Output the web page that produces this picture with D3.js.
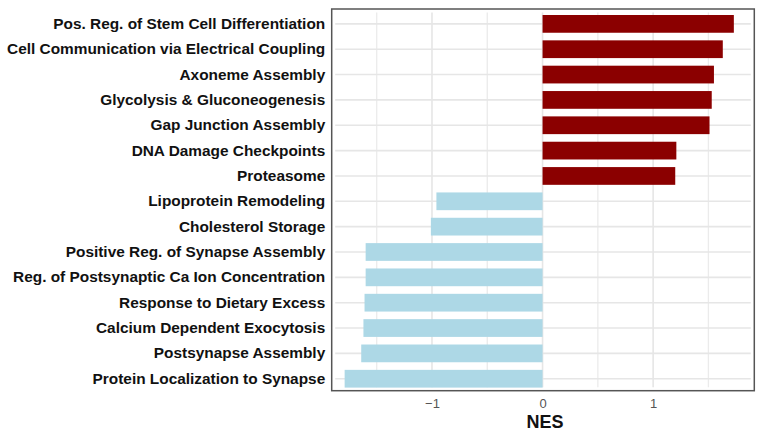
<!DOCTYPE html>
<html>
<head>
<meta charset="utf-8">
<script src="https://cdn.jsdelivr.net/npm/d3@7"></script>
<style>
body { margin: 0; background: #fff; }
svg { display: block; }
</style>
</head>
<body>
<script>
// pathways, top to bottom
var pathways = [
	"Pos. Reg. of Stem Cell Differentiation",
	"Cell Communication via Electrical Coupling",
	"Axoneme Assembly",
	"Glycolysis & Gluconeogenesis",
	"Gap Junction Assembly",
	"DNA Damage Checkpoints",
	"Proteasome",
	"Lipoprotein Remodeling",
	"Cholesterol Storage",
	"Positive Reg. of Synapse Assembly",
	"Reg. of Postsynaptic Ca Ion Concentration",
	"Response to Dietary Excess",
	"Calcium Dependent Exocytosis",
	"Postsynapse Assembly",
	"Protein Localization to Synapse"
];
// normalized enrichment scores
var nes = [1.73, 1.63, 1.55, 1.53, 1.51, 1.21, 1.20, -0.96, -1.01, -1.60, -1.60, -1.61, -1.62, -1.64, -1.79];
var xTicks = [-1, 0, 1];
var xMinor = [-1.5, -0.5, 0.5, 1.5];

var width = 775, height = 435;
var panel = {left: 331.7, right: 754.3, top: 9, bottom: 390.7};
var font = "'Liberation Sans', Arial, sans-serif";

var svg = d3.select("body").append("svg")
	.attr("width", width)
	.attr("height", height);

var x = d3.scaleLinear()
	.domain([-1.907, 1.915])
	.range([panel.left, panel.right]);

var y = d3.scaleBand()
	.domain(pathways)
	.range([11.2, 391.4])
	.paddingInner(0.3)
	.paddingOuter(0.15);

// grid, slightly inset from the border
var inset = 3.5;
var grid = svg.append("g");
grid.selectAll("line.minor").data(xMinor).enter().append("line")
	.attr("class", "minor")
	.attr("x1", function(d){ return x(d); })
	.attr("x2", function(d){ return x(d); })
	.attr("y1", panel.top + inset)
	.attr("y2", panel.bottom - inset)
	.style("stroke", "#ebebeb").style("stroke-width", 1.3);
grid.selectAll("line.vmajor").data(xTicks).enter().append("line")
	.attr("class", "vmajor")
	.attr("x1", function(d){ return x(d); })
	.attr("x2", function(d){ return x(d); })
	.attr("y1", panel.top + inset)
	.attr("y2", panel.bottom - inset)
	.style("stroke", "#e6e6e6").style("stroke-width", 1.6);
grid.selectAll("line.hmajor").data(pathways).enter().append("line")
	.attr("class", "hmajor")
	.attr("x1", panel.left + inset)
	.attr("x2", panel.right - inset)
	.attr("y1", function(d){ return y(d) + y.bandwidth() / 2; })
	.attr("y2", function(d){ return y(d) + y.bandwidth() / 2; })
	.style("stroke", "#e6e6e6").style("stroke-width", 1.6);

// bars
svg.selectAll("rect.bar").data(nes).enter().append("rect")
	.attr("class", "bar")
	.attr("x", function(d){ return x(Math.min(0, d)); })
	.attr("width", function(d){ return Math.abs(x(d) - x(0)); })
	.attr("y", function(d, i){ return y(pathways[i]); })
	.attr("height", y.bandwidth())
	.style("fill", function(d){ return d > 0 ? "#8b0000" : "#add8e6"; });

// panel border
svg.append("rect")
	.attr("x", panel.left)
	.attr("y", panel.top)
	.attr("width", panel.right - panel.left)
	.attr("height", panel.bottom - panel.top)
	.style("fill", "none")
	.style("stroke", "#555")
	.style("stroke-width", 1.5);

// y labels
var yAxis = d3.axisLeft(y).tickSize(0).tickPadding(6.5);
var gy = svg.append("g")
	.attr("transform", "translate(" + panel.left + ",0)")
	.call(yAxis);
gy.select(".domain").remove();
gy.selectAll("text")
	.style("font-family", font)
	.style("font-weight", "bold")
	.style("font-size", "15.4px")
	.style("fill", "#111");

// x axis
var xAxis = d3.axisBottom(x).tickValues(xTicks).tickSize(0).tickPadding(8.5)
	.tickFormat(function(d){ return d < 0 ? "\u2212" + Math.abs(d) : d; });
var gx = svg.append("g")
	.attr("transform", "translate(0," + panel.bottom + ")")
	.call(xAxis);
gx.select(".domain").remove();
gx.selectAll("text")
	.style("font-family", font)
	.style("font-size", "13px")
	.style("fill", "#555");

svg.append("text")
	.attr("x", 545)
	.attr("y", 428)
	.attr("text-anchor", "middle")
	.style("font-family", font)
	.style("font-weight", "bold")
	.style("font-size", "18px")
	.style("fill", "#111")
	.text("NES");
</script>
</body>
</html>
